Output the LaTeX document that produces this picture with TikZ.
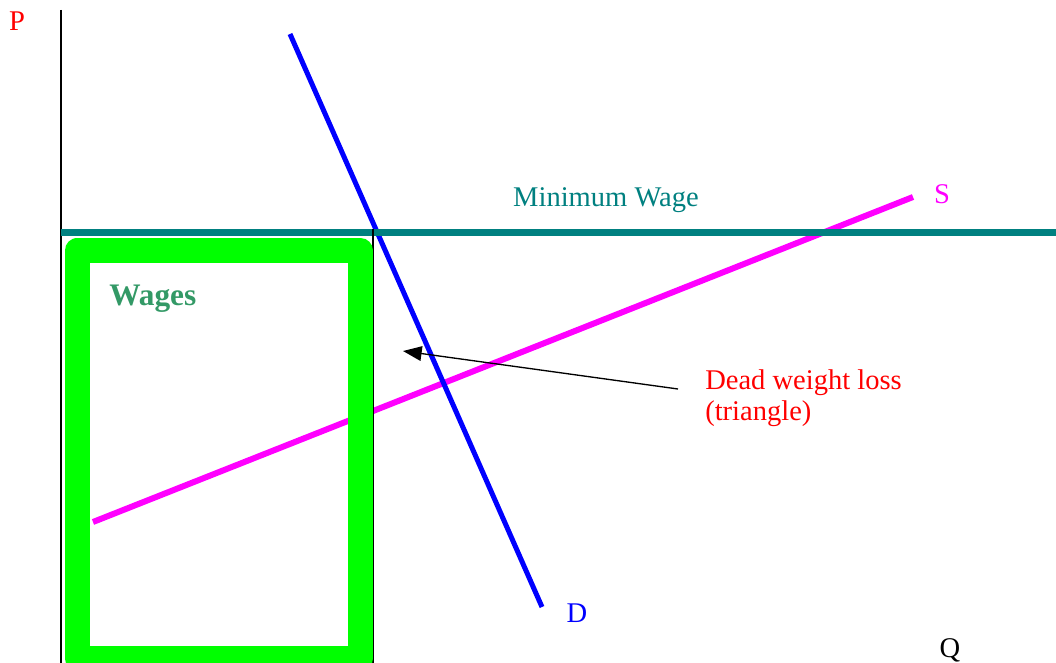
\documentclass[tikz,border=0pt]{standalone}
\usepackage{fontspec}
\setmainfont{Liberation Serif}
\usepackage{xcolor}
\usetikzlibrary{arrows.meta}
\definecolor{wageteal}{RGB}{0,128,128}
\definecolor{wagesgreen}{RGB}{51,153,102}
\definecolor{boxgreen}{RGB}{0,255,0}
\definecolor{supplypink}{RGB}{255,0,255}

\begin{document}
\begin{tikzpicture}[x=0.75pt,y=-0.75pt,
  lbl/.style={inner sep=0pt,font=\fontsize{21.4}{25}\selectfont}]
  \useasboundingbox (0,0) rectangle (1056,663);
  \coordinate (ptop) at (61,10);
  \coordinate (orig) at (61,663);
  \coordinate (s1) at (93,522);
  \coordinate (s2) at (913,197);
  \coordinate (d1) at (290,34);
  \coordinate (d2) at (542,607);
  \coordinate (mw1) at (61,232);
  \coordinate (mw2) at (1056,232);
  \coordinate (qtop) at (373,229);
  \coordinate (qbot) at (373,663);
  \coordinate (dwlfrom) at (678,389);
  \coordinate (dwlto) at (403,351);
  \draw[line width=1.5pt] (ptop) -- (orig);
  \draw[supplypink,line width=4.5pt] (s1) -- (s2);
  \draw[blue,line width=3.75pt] (d1) -- (d2);
  \draw[wageteal,line width=5.25pt] (mw1) -- (mw2);
  \draw[line width=1pt] (qtop) -- (qbot);
  \draw[boxgreen,line width=18.75pt,line join=round] (77,250.5) rectangle (360.5,658.5);
  \draw[-{Triangle[length=14pt,width=11pt]},line width=1pt] (dwlfrom) -- (dwlto);
  \foreach \nm/\x/\y/\t/\c in {plabel/17/31/P/red,slabel/942/203/S/supplypink,dlabel/577/622/D/blue,qlabel/950/657/Q/black} {
    \node[lbl,text=\c,anchor=base] (\nm) at (\x,\y) {\t};
  }
  \node[lbl,text=wageteal,anchor=base] (minwage) at (606,206) {Minimum Wage};
  \node[lbl,text=wagesgreen,anchor=base west,font=\fontsize{23.5}{27}\selectfont\bfseries] (wages) at (109,305) {Wages};
  \node[lbl,text=red,anchor=base west] (dwl) at (705,389) {Dead weight loss};
  \node[lbl,text=red,anchor=base west] (dwltri) at (705,420) {(triangle)};
\end{tikzpicture}
\end{document}
